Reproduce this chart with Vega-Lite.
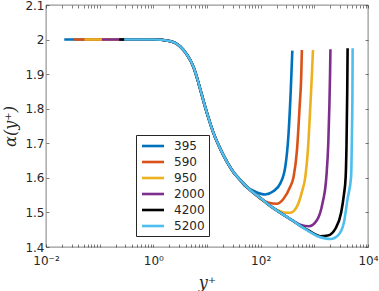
{
  "$schema": "https://vega.github.io/schema/vega-lite/v6.json",
  "autosize": "none",
  "width": 322,
  "height": 242,
  "padding": {"left": 46, "top": 5, "right": 11, "bottom": 44},
  "background": "white",
  "config": {
    "view": {"stroke": "#262626", "strokeWidth": 0.6},
    "font": "DejaVu Sans",
    "axis": {"labelFont": "DejaVu Sans", "labelFontSize": 12, "labelColor": "#262626", "domain": false, "grid": false, "tickColor": "#262626", "tickWidth": 0.6}
  },
  "data": {"values": [
    {"Re": "395", "yp": 0.0219, "a": 2.0},
    {"Re": "395", "yp": 0.1, "a": 2.0},
    {"Re": "395", "yp": 0.3, "a": 2.0},
    {"Re": "395", "yp": 1.0, "a": 2.0},
    {"Re": "395", "yp": 1.995, "a": 1.996},
    {"Re": "395", "yp": 3.162, "a": 1.98},
    {"Re": "395", "yp": 4.169, "a": 1.958},
    {"Re": "395", "yp": 5.623, "a": 1.92},
    {"Re": "395", "yp": 7.079, "a": 1.87},
    {"Re": "395", "yp": 8.61, "a": 1.822},
    {"Re": "395", "yp": 10.72, "a": 1.772},
    {"Re": "395", "yp": 13.18, "a": 1.73},
    {"Re": "395", "yp": 17.78, "a": 1.683},
    {"Re": "395", "yp": 23.44, "a": 1.647},
    {"Re": "395", "yp": 31.62, "a": 1.615},
    {"Re": "395", "yp": 39.81, "a": 1.597},
    {"Re": "395", "yp": 50.1, "a": 1.578},
    {"Re": "395", "yp": 79.4, "a": 1.56},
    {"Re": "395", "yp": 121.9, "a": 1.552},
    {"Re": "395", "yp": 171.8, "a": 1.561},
    {"Re": "395", "yp": 232.3, "a": 1.584},
    {"Re": "395", "yp": 287.7, "a": 1.632},
    {"Re": "395", "yp": 331.1, "a": 1.729},
    {"Re": "395", "yp": 363.1, "a": 1.85},
    {"Re": "395", "yp": 389.0, "a": 1.968},

    {"Re": "590", "yp": 0.0325, "a": 2.0},
    {"Re": "590", "yp": 0.1, "a": 2.0},
    {"Re": "590", "yp": 0.3, "a": 2.0},
    {"Re": "590", "yp": 1.0, "a": 2.0},
    {"Re": "590", "yp": 1.995, "a": 1.996},
    {"Re": "590", "yp": 3.162, "a": 1.98},
    {"Re": "590", "yp": 4.169, "a": 1.958},
    {"Re": "590", "yp": 5.623, "a": 1.92},
    {"Re": "590", "yp": 7.079, "a": 1.87},
    {"Re": "590", "yp": 8.61, "a": 1.822},
    {"Re": "590", "yp": 10.72, "a": 1.772},
    {"Re": "590", "yp": 13.18, "a": 1.73},
    {"Re": "590", "yp": 17.78, "a": 1.683},
    {"Re": "590", "yp": 23.44, "a": 1.647},
    {"Re": "590", "yp": 31.62, "a": 1.615},
    {"Re": "590", "yp": 39.81, "a": 1.597},
    {"Re": "590", "yp": 63.97, "a": 1.565},
    {"Re": "590", "yp": 79.4, "a": 1.552},
    {"Re": "590", "yp": 100, "a": 1.539},
    {"Re": "590", "yp": 141.3, "a": 1.528},
    {"Re": "590", "yp": 199.5, "a": 1.525},
    {"Re": "590", "yp": 263.0, "a": 1.538},
    {"Re": "590", "yp": 354.8, "a": 1.574},
    {"Re": "590", "yp": 411.1, "a": 1.603},
    {"Re": "590", "yp": 475.3, "a": 1.681},
    {"Re": "590", "yp": 532.1, "a": 1.806},
    {"Re": "590", "yp": 571.5, "a": 1.9},
    {"Re": "590", "yp": 586.1, "a": 1.97},

    {"Re": "950", "yp": 0.0522, "a": 2.0},
    {"Re": "950", "yp": 0.1, "a": 2.0},
    {"Re": "950", "yp": 0.3, "a": 2.0},
    {"Re": "950", "yp": 1.0, "a": 2.0},
    {"Re": "950", "yp": 1.995, "a": 1.996},
    {"Re": "950", "yp": 3.162, "a": 1.98},
    {"Re": "950", "yp": 4.169, "a": 1.958},
    {"Re": "950", "yp": 5.623, "a": 1.92},
    {"Re": "950", "yp": 7.079, "a": 1.87},
    {"Re": "950", "yp": 8.61, "a": 1.822},
    {"Re": "950", "yp": 10.72, "a": 1.772},
    {"Re": "950", "yp": 13.18, "a": 1.73},
    {"Re": "950", "yp": 17.78, "a": 1.683},
    {"Re": "950", "yp": 23.44, "a": 1.647},
    {"Re": "950", "yp": 31.62, "a": 1.615},
    {"Re": "950", "yp": 39.81, "a": 1.597},
    {"Re": "950", "yp": 63.97, "a": 1.565},
    {"Re": "950", "yp": 100, "a": 1.541},
    {"Re": "950", "yp": 130.9, "a": 1.526},
    {"Re": "950", "yp": 199.5, "a": 1.507},
    {"Re": "950", "yp": 269.2, "a": 1.5},
    {"Re": "950", "yp": 356.4, "a": 1.499},
    {"Re": "950", "yp": 478.6, "a": 1.518},
    {"Re": "950", "yp": 588.8, "a": 1.56},
    {"Re": "950", "yp": 679.2, "a": 1.603},
    {"Re": "950", "yp": 758.6, "a": 1.68},
    {"Re": "950", "yp": 841.4, "a": 1.806},
    {"Re": "950", "yp": 901.6, "a": 1.9},
    {"Re": "950", "yp": 944.1, "a": 1.97},

    {"Re": "2000", "yp": 0.11, "a": 2.0},
    {"Re": "2000", "yp": 0.3, "a": 2.0},
    {"Re": "2000", "yp": 1.0, "a": 2.0},
    {"Re": "2000", "yp": 1.995, "a": 1.996},
    {"Re": "2000", "yp": 3.162, "a": 1.98},
    {"Re": "2000", "yp": 4.169, "a": 1.958},
    {"Re": "2000", "yp": 5.623, "a": 1.92},
    {"Re": "2000", "yp": 7.079, "a": 1.87},
    {"Re": "2000", "yp": 8.61, "a": 1.822},
    {"Re": "2000", "yp": 10.72, "a": 1.772},
    {"Re": "2000", "yp": 13.18, "a": 1.73},
    {"Re": "2000", "yp": 17.78, "a": 1.683},
    {"Re": "2000", "yp": 23.44, "a": 1.647},
    {"Re": "2000", "yp": 31.62, "a": 1.615},
    {"Re": "2000", "yp": 39.81, "a": 1.597},
    {"Re": "2000", "yp": 63.97, "a": 1.565},
    {"Re": "2000", "yp": 100, "a": 1.541},
    {"Re": "2000", "yp": 130.9, "a": 1.526},
    {"Re": "2000", "yp": 199.5, "a": 1.506},
    {"Re": "2000", "yp": 267.3, "a": 1.493},
    {"Re": "2000", "yp": 398.1, "a": 1.476},
    {"Re": "2000", "yp": 562.3, "a": 1.464},
    {"Re": "2000", "yp": 794.3, "a": 1.46},
    {"Re": "2000", "yp": 1122, "a": 1.478},
    {"Re": "2000", "yp": 1413, "a": 1.525},
    {"Re": "2000", "yp": 1675, "a": 1.603},
    {"Re": "2000", "yp": 1820, "a": 1.7},
    {"Re": "2000", "yp": 1905, "a": 1.806},
    {"Re": "2000", "yp": 1963, "a": 1.9},
    {"Re": "2000", "yp": 1995, "a": 1.972},

    {"Re": "4200", "yp": 0.231, "a": 2.0},
    {"Re": "4200", "yp": 0.3, "a": 2.0},
    {"Re": "4200", "yp": 1.0, "a": 2.0},
    {"Re": "4200", "yp": 1.995, "a": 1.996},
    {"Re": "4200", "yp": 3.162, "a": 1.98},
    {"Re": "4200", "yp": 4.169, "a": 1.958},
    {"Re": "4200", "yp": 5.623, "a": 1.92},
    {"Re": "4200", "yp": 7.079, "a": 1.87},
    {"Re": "4200", "yp": 8.61, "a": 1.822},
    {"Re": "4200", "yp": 10.72, "a": 1.772},
    {"Re": "4200", "yp": 13.18, "a": 1.73},
    {"Re": "4200", "yp": 17.78, "a": 1.683},
    {"Re": "4200", "yp": 23.44, "a": 1.647},
    {"Re": "4200", "yp": 31.62, "a": 1.615},
    {"Re": "4200", "yp": 39.81, "a": 1.597},
    {"Re": "4200", "yp": 63.97, "a": 1.565},
    {"Re": "4200", "yp": 100, "a": 1.541},
    {"Re": "4200", "yp": 130.9, "a": 1.526},
    {"Re": "4200", "yp": 199.5, "a": 1.506},
    {"Re": "4200", "yp": 267.3, "a": 1.493},
    {"Re": "4200", "yp": 398.1, "a": 1.476},
    {"Re": "4200", "yp": 547.0, "a": 1.461},
    {"Re": "4200", "yp": 794.3, "a": 1.447},
    {"Re": "4200", "yp": 1000, "a": 1.438},
    {"Re": "4200", "yp": 1288, "a": 1.431},
    {"Re": "4200", "yp": 1778, "a": 1.433},
    {"Re": "4200", "yp": 2512, "a": 1.455},
    {"Re": "4200", "yp": 3162, "a": 1.5},
    {"Re": "4200", "yp": 3548, "a": 1.55},
    {"Re": "4200", "yp": 3837, "a": 1.603},
    {"Re": "4200", "yp": 3981, "a": 1.7},
    {"Re": "4200", "yp": 4102, "a": 1.85},
    {"Re": "4200", "yp": 4169, "a": 1.975},

    {"Re": "5200", "yp": 0.286, "a": 2.0},
    {"Re": "5200", "yp": 1.0, "a": 2.0},
    {"Re": "5200", "yp": 1.995, "a": 1.996},
    {"Re": "5200", "yp": 3.162, "a": 1.98},
    {"Re": "5200", "yp": 4.169, "a": 1.958},
    {"Re": "5200", "yp": 5.623, "a": 1.92},
    {"Re": "5200", "yp": 7.079, "a": 1.87},
    {"Re": "5200", "yp": 8.61, "a": 1.822},
    {"Re": "5200", "yp": 10.72, "a": 1.772},
    {"Re": "5200", "yp": 13.18, "a": 1.73},
    {"Re": "5200", "yp": 17.78, "a": 1.683},
    {"Re": "5200", "yp": 23.44, "a": 1.647},
    {"Re": "5200", "yp": 31.62, "a": 1.615},
    {"Re": "5200", "yp": 39.81, "a": 1.597},
    {"Re": "5200", "yp": 63.97, "a": 1.565},
    {"Re": "5200", "yp": 100, "a": 1.541},
    {"Re": "5200", "yp": 130.9, "a": 1.526},
    {"Re": "5200", "yp": 199.5, "a": 1.506},
    {"Re": "5200", "yp": 267.3, "a": 1.493},
    {"Re": "5200", "yp": 398.1, "a": 1.476},
    {"Re": "5200", "yp": 547.0, "a": 1.461},
    {"Re": "5200", "yp": 794.3, "a": 1.445},
    {"Re": "5200", "yp": 1122, "a": 1.432},
    {"Re": "5200", "yp": 1585, "a": 1.425},
    {"Re": "5200", "yp": 1995, "a": 1.423},
    {"Re": "5200", "yp": 2818, "a": 1.435},
    {"Re": "5200", "yp": 3548, "a": 1.47},
    {"Re": "5200", "yp": 4169, "a": 1.54},
    {"Re": "5200", "yp": 4842, "a": 1.603},
    {"Re": "5200", "yp": 5012, "a": 1.72},
    {"Re": "5200", "yp": 5129, "a": 1.85},
    {"Re": "5200", "yp": 5176, "a": 1.975}
  ]},
  "layer": [
    {
      "mark": {"type": "line", "strokeWidth": 2.6, "interpolate": "monotone", "clip": true},
      "encoding": {
        "x": {
          "field": "yp", "type": "quantitative",
          "scale": {"type": "log", "domain": [0.01, 10000], "nice": false},
          "axis": {
            "orient": "bottom",
            "title": "y⁺", "titleFont": "DejaVu Serif", "titleFontStyle": "italic", "titleFontWeight": "normal", "titleFontSize": 16, "titleColor": "#262626", "titlePadding": 8,
            "values": [0.01,0.02,0.03,0.04,0.05,0.06,0.07,0.08,0.09,0.1,0.2,0.3,0.4,0.5,0.6,0.7,0.8,0.9,1,2,3,4,5,6,7,8,9,10,20,30,40,50,60,70,80,90,100,200,300,400,500,600,700,800,900,1000,2000,3000,4000,5000,6000,7000,8000,9000,10000],
            "labelExpr": "datum.value == 0.01 ? '10⁻²' : datum.value == 1 ? '10⁰' : datum.value == 100 ? '10²' : datum.value == 10000 ? '10⁴' : ''",
            "labelOverlap": false, "labelFlush": false, "tickSize": -3, "labelPadding": 11
          }
        },
        "y": {
          "field": "a", "type": "quantitative",
          "scale": {"domain": [1.4, 2.1], "nice": false, "zero": false},
          "axis": {
            "orient": "left",
            "title": "α(y⁺)", "titleFont": "DejaVu Serif", "titleFontStyle": "italic", "titleFontWeight": "normal", "titleFontSize": 16, "titleColor": "#262626", "titlePadding": 6,
            "values": [1.4,1.5,1.6,1.7,1.8,1.9,2.0,2.1], "format": "~g", "tickSize": -3, "labelPadding": 5
          }
        },
        "color": {
          "field": "Re", "type": "nominal",
          "scale": {"domain": ["395","590","950","2000","4200","5200"], "range": ["#0072BD","#D95319","#EDB120","#7E2F8E","#000000","#4DBEEE"]},
          "legend": {
            "title": null, "orient": "none", "legendX": 90, "legendY": 130,
            "symbolType": "M-2,0H2", "symbolSize": 121, "symbolStrokeWidth": 2.6, "symbolOffset": 6,
            "labelFont": "DejaVu Sans", "labelFontSize": 12, "labelColor": "#262626", "labelOffset": 14,
            "rowPadding": 3, "padding": 4, "strokeColor": "#262626", "fillColor": "white"
          }
        }
      }
    },
    {
      "mark": {"type": "point", "opacity": 0},
      "encoding": {
        "x": {
          "field": "yp", "type": "quantitative",
          "scale": {"type": "log", "domain": [0.01, 10000], "nice": false},
          "axis": {
            "orient": "top", "title": null, "labels": false,
            "values": [0.01,0.02,0.03,0.04,0.05,0.06,0.07,0.08,0.09,0.1,0.2,0.3,0.4,0.5,0.6,0.7,0.8,0.9,1,2,3,4,5,6,7,8,9,10,20,30,40,50,60,70,80,90,100,200,300,400,500,600,700,800,900,1000,2000,3000,4000,5000,6000,7000,8000,9000,10000],
            "tickSize": -3
          }
        },
        "y": {
          "field": "a", "type": "quantitative",
          "scale": {"domain": [1.4, 2.1], "nice": false, "zero": false},
          "axis": {
            "orient": "right", "title": null, "labels": false,
            "values": [1.4,1.5,1.6,1.7,1.8,1.9,2.0,2.1], "tickSize": -3
          }
        }
      }
    }
  ],
  "resolve": {"axis": {"x": "independent", "y": "independent"}}
}
